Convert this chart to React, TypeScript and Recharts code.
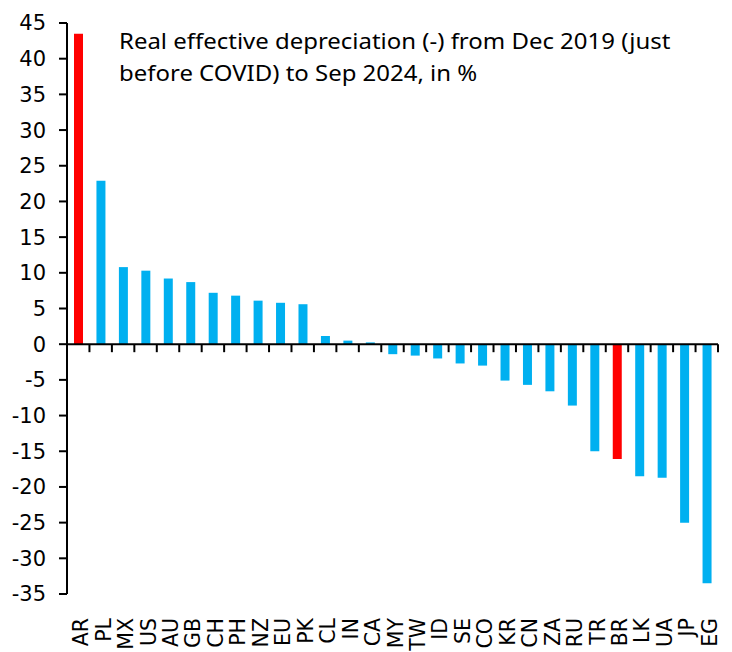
import { BarChart, Bar, XAxis, YAxis, Cell, ReferenceLine } from "recharts";

const countries = [
  "AR", "PL", "MX", "US", "AU", "GB", "CH", "PH", "NZ", "EU", "PK", "CL", "IN", "CA",
  "MY", "TW", "ID", "SE", "CO", "KR", "CN", "ZA", "RU", "TR", "BR", "LK", "UA", "JP", "EG",
];
const depreciation = [
  43.5, 22.9, 10.8, 10.3, 9.2, 8.7, 7.2, 6.8, 6.1, 5.8, 5.6, 1.15, 0.5, 0.25,
  -1.4, -1.6, -2.0, -2.7, -3.0, -5.1, -5.7, -6.6, -8.6, -15.0, -16.1, -18.5, -18.7, -25.0, -33.5,
];
const highlighted = ["AR", "BR"];
const yTicks = [-35, -30, -25, -20, -15, -10, -5, 0, 5, 10, 15, 20, 25, 30, 35, 40, 45];
const titleLines = [
  "Real effective depreciation (-) from Dec 2019 (just",
  "before COVID) to Sep 2024, in %",
];

const data = countries.map((code, i) => ({ code, value: depreciation[i] }));

const BLUE = "#00B0F0";
const RED = "#FF0000";
const AXIS_FONT = "'DejaVu Sans', sans-serif";

const CountryTick = (props: any) => {
  const { x, y, payload } = props;
  return (
    <text
      transform={`translate(${x + 10},${y + 16}) rotate(-90)`}
      textAnchor="end"
      fontSize={20.5}
      fontFamily={AXIS_FONT}
      fill="#000"
    >
      {payload.value}
    </text>
  );
};

// zero line with tick marks between the categories
const ZeroLine = (props: any) => {
  const { x1, y1, x2, y2 } = props;
  const step = (x2 - x1) / countries.length;
  return (
    <g>
      <line x1={x1} y1={y1} x2={x2} y2={y2} stroke="#000" strokeWidth={2} />
      {countries.map((c, i) => (
        <line
          key={c}
          x1={x1 + step * (i + 1)}
          x2={x1 + step * (i + 1)}
          y1={y1}
          y2={y1 + 8}
          stroke="#000"
          strokeWidth={2}
        />
      ))}
    </g>
  );
};

export default function App() {
  return (
    <BarChart
      width={724}
      height={644}
      data={data}
      margin={{ top: 15, right: 14, left: 0, bottom: 0 }}
    >
      <XAxis
        dataKey="code"
        interval={0}
        axisLine={false}
        tickLine={false}
        height={58}
        tick={<CountryTick />}
      />
      <YAxis
        domain={[-35, 45]}
        ticks={yTicks}
        interval={0}
        width={59}
        axisLine={{ stroke: "#000", strokeWidth: 2 }}
        tickLine={{ stroke: "#000", strokeWidth: 2 }}
        tickSize={8}
        tickMargin={13}
        tick={{ fill: "#000", fontSize: 21, fontFamily: AXIS_FONT }}
      />
      <Bar dataKey="value" barSize={9} isAnimationActive={false}>
        {data.map((d) => (
          <Cell key={d.code} fill={highlighted.includes(d.code) ? RED : BLUE} />
        ))}
      </Bar>
      <ReferenceLine y={0} shape={<ZeroLine />} />
      {titleLines.map((line, i) => (
        <g key={i} transform={`translate(111,${41 + i * 32}) scale(1.115,1)`}>
          <text x={0} y={0} fontSize={21.5} fontFamily="'Noto Sans', sans-serif" fill="#000">
            {line}
          </text>
        </g>
      ))}
    </BarChart>
  );
}
